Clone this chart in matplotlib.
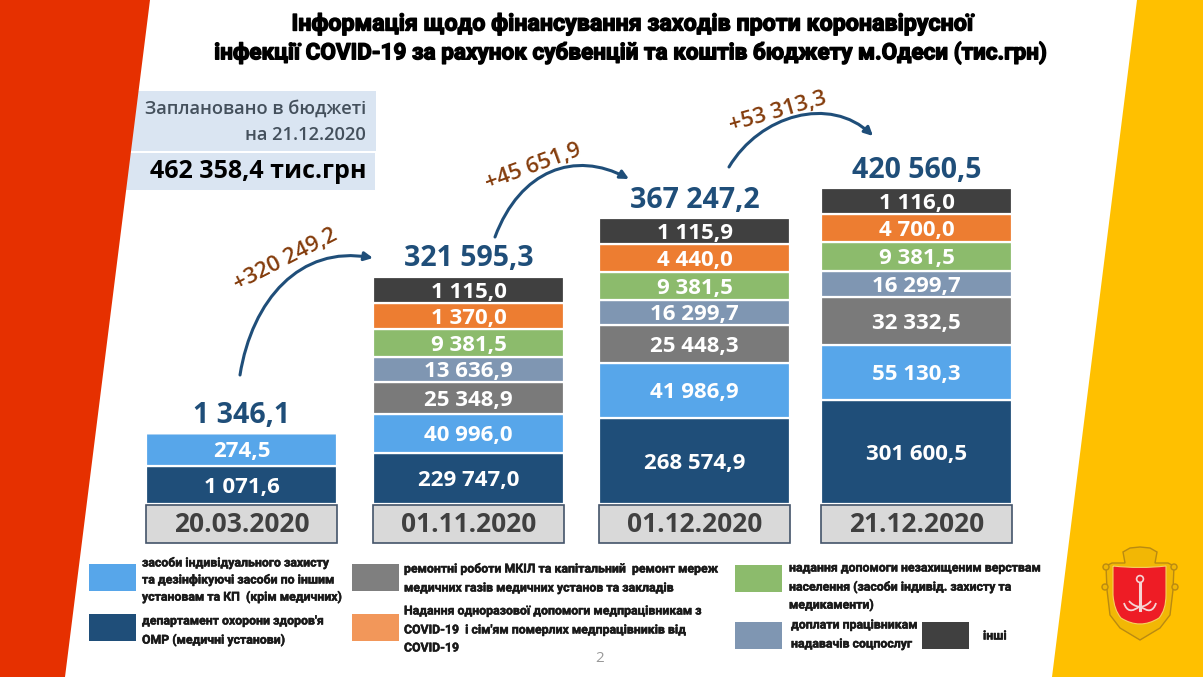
import matplotlib
matplotlib.use('Agg')
import matplotlib.pyplot as plt
import matplotlib.patheffects as pe
from matplotlib.patches import Polygon, Rectangle, FancyArrowPatch, PathPatch, Circle
from matplotlib.path import Path

plt.rcParams['font.family'] = ['Open Sans', 'DejaVu Sans']
NARROW = ['Liberation Sans Narrow', 'Roboto', 'DejaVu Sans']

# data
dates = ['20.03.2020', '01.11.2020', '01.12.2020', '21.12.2020']
totals = ['1 346,1', '321 595,3', '367 247,2', '420 560,5']
deltas = ['+320 249,2', '+45 651,9', '+53 313,3']

# labels, bottom segment first
labels_dep = ['1 071,6', '229 747,0', '268 574,9', '301 600,5']
labels_ppe = ['274,5', '40 996,0', '41 986,9', '55 130,3']
labels_rep = [None, '25 348,9', '25 448,3', '32 332,5']
labels_soc = [None, '13 636,9', '16 299,7', '16 299,7']
labels_vul = [None, '9 381,5', '9 381,5', '9 381,5']
labels_med = [None, '1 370,0', '4 440,0', '4 700,0']
labels_oth = [None, '1 115,0', '1 115,9', '1 116,0']

# the slide bars are not to scale, so these are drawn heights read off the picture
heights_dep = [38, 51.5, 86.5, 104.5]
heights_ppe = [33.3, 39, 54.5, 55]
heights_rep = [0, 31.5, 38, 47.5]
heights_soc = [0, 25.5, 25.5, 26]
heights_vul = [0, 27.5, 27.5, 29.5]
heights_med = [0, 26, 28, 27.5]
heights_oth = [0, 26.5, 26, 26]

segments = [
    (heights_dep, labels_dep, '#1F4E79'),
    (heights_ppe, labels_ppe, '#57A6EA'),
    (heights_rep, labels_rep, '#7A7A7A'),
    (heights_soc, labels_soc, '#7F96B2'),
    (heights_vul, labels_vul, '#8CBB6C'),
    (heights_med, labels_med, '#ED7D31'),
    (heights_oth, labels_oth, '#404040'),
]
bar_x = [241.5, 468.5, 694.7, 916.5]
bar_w = 190.5

fig = plt.figure(figsize=(12.03, 6.77), dpi=100)

# background axes in slide pixels
bg = fig.add_axes([0, 0, 1, 1])
bg.set_xlim(0, 1203)
bg.set_ylim(677, 0)
bg.axis('off')

# info boxes go under the red band
bg.add_patch(Rectangle((120, 91), 256, 60, color='#DAE5F2', lw=0))
bg.add_patch(Rectangle((120, 153), 255, 37, color='#DAE5F2', lw=0))
bg.add_patch(Polygon([(0, 0), (150, 0), (65, 677), (0, 677)], color='#E63000', lw=0))
bg.add_patch(Polygon([(1137, 0), (1203, 0), (1203, 677), (1052, 677)], color='#FFC000', lw=0))

bg.text(366, 109, 'Заплановано в бюджеті', ha='right', va='center', fontsize=13.2, color='#44505C', weight='semibold')
bg.text(366, 135, 'на 21.12.2020', ha='right', va='center', fontsize=13.2, color='#44505C', weight='semibold')
bg.text(367, 172, '462 358,4 тис.грн', ha='right', va='center', fontsize=18, color='black', weight='bold')

title_fx = [pe.withStroke(linewidth=1.0, foreground='black')]
bg.text(631, 24, 'Інформація щодо фінансування заходів проти коронавірусної', ha='center', va='center',
        fontsize=16.7, family=NARROW, weight='bold', color='black', path_effects=title_fx)
bg.text(631, 53, 'інфекції COVID-19 за рахунок субвенцій та коштів бюджету м.Одеси (тис.грн)', ha='center', va='center',
        fontsize=16.2, family=NARROW, weight='bold', color='black', path_effects=title_fx)

# bars
ax = fig.add_axes([0, (677 - 504) / 677, 1, 504 / 677])
ax.set_xlim(0, 1203)
ax.set_ylim(0, 504)
ax.axis('off')
ax.patch.set_alpha(0)
bottoms = [0, 0, 0, 0]
for heights, labels, color in segments:
    ax.bar(bar_x, heights, width=bar_w, bottom=bottoms, color=color, edgecolor='white', linewidth=1.6)
    for i, lab in enumerate(labels):
        if lab is not None:
            ax.text(bar_x[i], bottoms[i] + heights[i] / 2 - 8, lab, ha='center', va='baseline', color='white',
                    fontsize=16, weight='bold')
    bottoms = [b + h for b, h in zip(bottoms, heights)]
for i, total in enumerate(totals):
    ax.text(bar_x[i], bottoms[i] + 10, total, ha='center', va='baseline', color='#1F4E79', fontsize=20.5, weight='bold')

# date boxes under the bars
for x, d in zip(bar_x, dates):
    bg.add_patch(Rectangle((x - 95.5, 505), 191, 38, facecolor='#D9D9D9', edgecolor='#44546A', lw=1.2))
    bg.text(x, 525, d, ha='center', va='center', fontsize=19, weight='bold', color='#404040')

# growth arrows
arrow_paths = [
    [(240, 375), (252, 300), (300, 245), (373, 258)],
    [(495, 237), (520, 170), (575, 150), (629, 179)],
    [(729, 167), (760, 115), (830, 95), (873, 136)],
]
for p in arrow_paths:
    bg.add_patch(FancyArrowPatch(path=Path(p, [Path.MOVETO, Path.CURVE4, Path.CURVE4, Path.CURVE4]),
                                 arrowstyle='-|>,head_length=5,head_width=2.5', color='#1F4E79', lw=2.2))
delta_pos = [(286, 260, 27), (533, 167, 20), (778, 112, 16)]
for (x, y, r), d in zip(delta_pos, deltas):
    bg.text(x, y, d, ha='center', va='center', rotation=r, rotation_mode='anchor', fontsize=16,
            color='#843C0C', weight='semibold')

# legend
swatches = [
    (89, 564, '#57A6EA'), (89, 614, '#1F4E79'), (352, 564, '#7F7F7F'), (352, 614, '#F2975A'),
    (735, 565, '#8CBB6C'), (735, 622, '#7F96B2'), (922, 622, '#404040'),
]
for x, y, c in swatches:
    bg.add_patch(Rectangle((x, y), 47, 27, color=c, lw=0))
legend_lines = [
    (142, 563, 'засоби індивідуального захисту'),
    (142, 580, 'та дезінфікуючі засоби по іншим'),
    (142, 597, 'установам та КП  (крім медичних)'),
    (142, 621, "департамент охорони здоров'я"),
    (142, 640, 'ОМР (медичні установи)'),
    (404, 569, 'ремонтні роботи МКІЛ та капітальний  ремонт мереж'),
    (404, 588, 'медичних газів медичних установ та закладів'),
    (404, 611, 'Надання одноразової допомоги медпрацівникам з'),
    (404, 630, "COVID-19  і сім'ям померлих медпрацівників від"),
    (404, 648, 'COVID-19'),
    (789, 568, 'надання допомоги незахищеним верствам'),
    (789, 587, 'населення (засоби індивід. захисту та'),
    (789, 605, 'медикаменти)'),
    (791, 625, 'доплати працівникам'),
    (791, 644, 'надавачів соцпослуг'),
    (983, 636, 'інші'),
]
legend_fx = [pe.withStroke(linewidth=0.35, foreground='#1A1A1A')]
for x, y, s in legend_lines:
    bg.text(x, y, s, ha='left', va='center', fontsize=8.85, family=NARROW, weight='bold', color='#1A1A1A',
            path_effects=legend_fx)
bg.text(600, 658, '2', ha='center', va='center', fontsize=11, color='#999999')

# Odesa coat of arms
gold = '#F2B705'
line = '#B98A12'
frame = [(1112, 563), (1125, 563), (1123, 552), (1130, 548), (1140, 547), (1150, 548), (1157, 552), (1155, 563),
         (1168, 563), (1174, 566), (1173, 590), (1170, 615), (1160, 628), (1140, 640), (1120, 628), (1110, 615),
         (1107, 590), (1106, 566)]
bg.add_patch(Polygon(frame, facecolor=gold, edgecolor=line, lw=1))
for cx, cy in [(1106, 567), (1174, 567), (1105, 587), (1175, 587)]:
    bg.add_patch(Circle((cx, cy), 3, facecolor=gold, edgecolor=line, lw=1))
shield = Path([(1113, 566), (1140, 569), (1166, 566), (1166, 595), (1166, 610), (1159, 618), (1140, 630),
               (1121, 618), (1114, 610), (1113, 595), (1113, 566)],
              [Path.MOVETO, Path.CURVE3, Path.CURVE3, Path.LINETO, Path.CURVE3, Path.CURVE3, Path.CURVE3,
               Path.CURVE3, Path.CURVE3, Path.LINETO, Path.LINETO])
bg.add_patch(PathPatch(shield, facecolor='#EE1C25', edgecolor='#F5D060', lw=0.8))
bg.plot([1140, 1140], [583, 610], color='#F6D5D5', lw=2.2)
bg.add_patch(Circle((1140, 579), 3.4, fill=False, edgecolor='#F6D5D5', lw=1.2))
flukes = [
    [(1124, 603), (1128, 616), (1140, 606)],
    [(1156, 603), (1152, 616), (1140, 606)],
    [(1129, 601), (1133, 606), (1140, 607)],
    [(1151, 601), (1147, 606), (1140, 607)],
]
for f in flukes:
    bg.add_patch(PathPatch(Path(f, [Path.MOVETO, Path.CURVE3, Path.CURVE3]), fill=False, edgecolor='#F6D5D5', lw=1.3))

fig.savefig('out.png', dpi=100)
